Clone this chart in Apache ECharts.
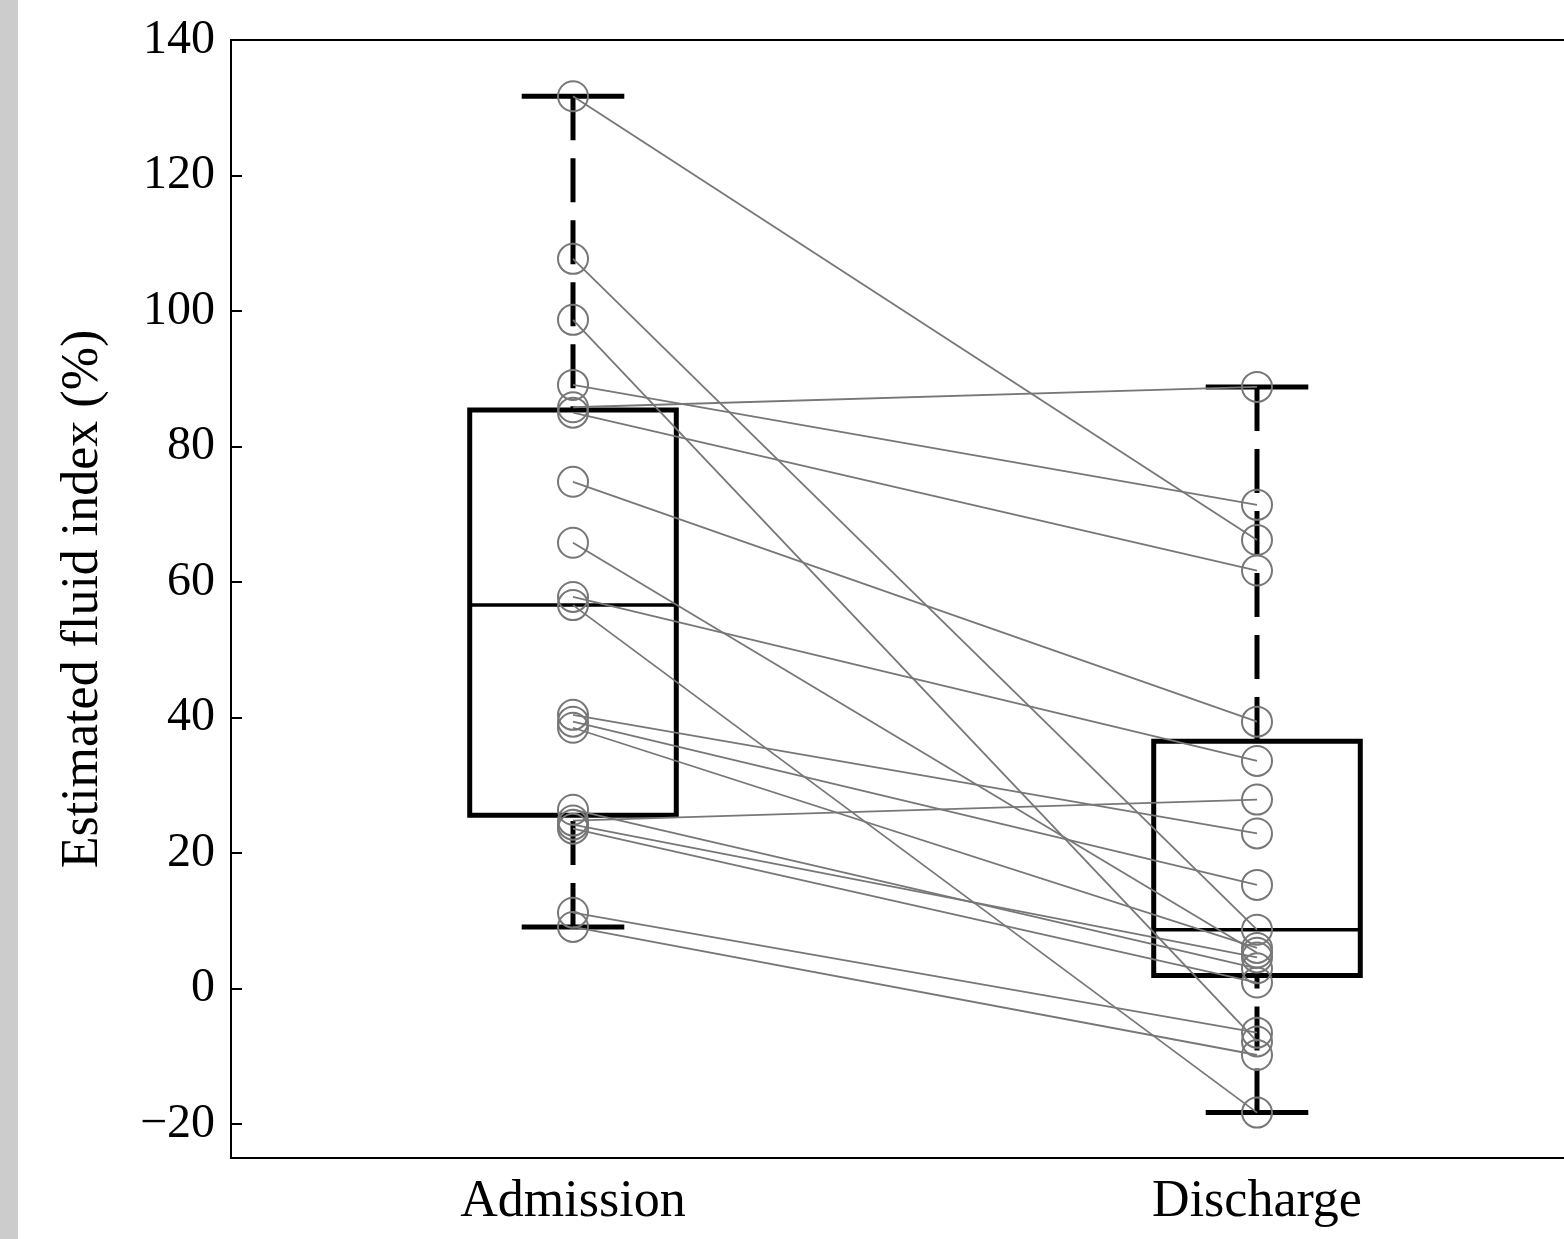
<!DOCTYPE html>
<html>
<head>
<meta charset="utf-8">
<script src="https://cdn.jsdelivr.net/npm/echarts@6/dist/echarts.min.js"></script>
<style>
html,body{margin:0;padding:0;background:#fff;}
#main{width:1564px;height:1239px;}
</style>
</head>
<body>
<div id="main"></div>
<script>
const categories = ['Admission', 'Discharge'];
// paired values per subject (index i: admission -> discharge)
const admission = [131.7, 107.7, 98.7, 89.1, 85.8, 85.0, 74.8, 65.8, 57.8, 56.6, 40.4, 39.4, 38.5, 26.4, 24.8, 24.2, 23.6, 11.2, 9.1];
const discharge = [66.2, 8.7, -7.8, 71.4, 88.8, 61.7, 39.4, 5.3, 33.6, -18.3, 22.9, 15.3, 6.0, 3.0, 27.9, 4.6, 0.9, -6.5, -9.8];
const yTicks = [-20, 0, 20, 40, 60, 80, 100, 120, 140];
const yName = 'Estimated fluid index (%)';

function median(a) {
  const n = a.length, m = Math.floor(n / 2);
  return n % 2 ? a[m] : (a[m - 1] + a[m]) / 2;
}
function hinges(vals) {
  const s = vals.slice().sort((a, b) => a - b);
  const n = s.length;
  const half = Math.ceil(n / 2);
  const lower = s.slice(0, half);
  const upper = s.slice(n - half);
  return [s[0], median(lower), median(s), median(upper), s[n - 1]];
}
const boxData = [
  [0].concat(hinges(admission)),
  [1].concat(hinges(discharge))
];

const FONT = 'Liberation Serif';
const GRAY = '#777777';

const series = [{
  type: 'custom',
  z: 1,
  data: boxData,
  renderItem: function (params, api) {
    const c = api.value(0);
    const bw = api.size([1, 0])[0];
    const half = bw * 0.151;
    const capHalf = bw * 0.075;
    const pMin = api.coord([c, api.value(1)]);
    const pQ1 = api.coord([c, api.value(2)]);
    const pMed = api.coord([c, api.value(3)]);
    const pQ3 = api.coord([c, api.value(4)]);
    const pMax = api.coord([c, api.value(5)]);
    const x = pMed[0];
    const st = { stroke: '#000', lineWidth: 5, fill: null };
    const dash = { stroke: '#000', lineWidth: 5, lineDash: [44, 18] };
    return {
      type: 'group',
      children: [
        { type: 'line', shape: { x1: x, y1: pMax[1], x2: x, y2: pQ3[1] }, style: dash },
        { type: 'line', shape: { x1: x, y1: pMin[1], x2: x, y2: pQ1[1] }, style: dash },
        { type: 'line', shape: { x1: x - capHalf, y1: pMax[1], x2: x + capHalf, y2: pMax[1] }, style: st },
        { type: 'line', shape: { x1: x - capHalf, y1: pMin[1], x2: x + capHalf, y2: pMin[1] }, style: st },
        { type: 'rect', shape: { x: x - half, y: pQ3[1], width: half * 2, height: pQ1[1] - pQ3[1] }, style: { stroke: '#000', lineWidth: 5, fill: 'rgba(0,0,0,0)' } },
        { type: 'line', shape: { x1: x - half, y1: pMed[1], x2: x + half, y2: pMed[1] }, style: { stroke: '#000', lineWidth: 3.5 } }
      ]
    };
  }
}];

admission.forEach(function (a, i) {
  series.push({
    type: 'line',
    z: 3,
    data: [a, discharge[i]],
    symbol: 'circle',
    symbolSize: 30,
    showSymbol: true,
    animation: false,
    lineStyle: { color: GRAY, width: 1.8 },
    itemStyle: { color: 'rgba(0,0,0,0)', borderColor: GRAY, borderWidth: 2 },
    emphasis: { disabled: true }
  });
});

const chart = echarts.init(document.getElementById('main'), null, { renderer: 'canvas' });
chart.setOption({
  animation: false,
  backgroundColor: '#fff',
  graphic: [{
    type: 'rect', left: 0, top: 0, shape: { width: 18, height: 1239 }, style: { fill: '#cccccc' }, z: 0
  }],
  grid: {
    left: 231, top: 40, width: 1368, height: 1118,
    outerBoundsMode: 'none',
    containLabel: false,
    show: true, borderColor: '#000', borderWidth: 2, backgroundColor: 'rgba(0,0,0,0)'
  },
  xAxis: {
    type: 'category',
    data: categories,
    boundaryGap: true,
    axisLine: { show: false },
    axisTick: { show: false },
    splitLine: { show: false },
    axisLabel: { fontFamily: FONT, fontSize: 52, color: '#000', margin: 18 }
  },
  yAxis: {
    type: 'value',
    min: -25, max: 140,
    name: yName,
    nameLocation: 'middle',
    nameGap: 122,
    nameTextStyle: { fontFamily: FONT, fontSize: 52, color: '#000' },
    axisLine: { show: false },
    splitLine: { show: false },
    axisTick: { show: true, inside: true, length: 11, lineStyle: { color: '#000', width: 2 }, customValues: yTicks },
    axisLabel: {
      fontFamily: FONT, fontSize: 48, color: '#000', margin: 16, customValues: yTicks,
      formatter: function (v) { return v < 0 ? '\u2212' + Math.abs(v) : String(v); }
    }
  },
  series: series
});
</script>
</body>
</html>
